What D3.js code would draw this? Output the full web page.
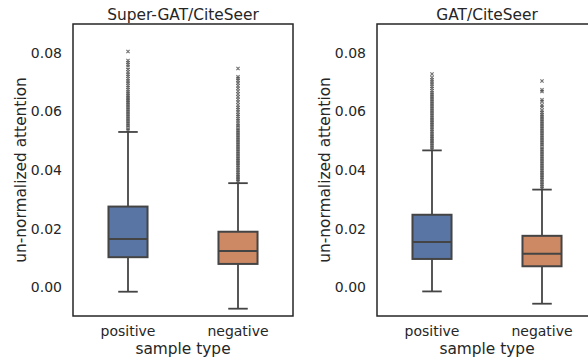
<!DOCTYPE html>
<html>
<head>
<meta charset="utf-8">
<script src="https://cdn.jsdelivr.net/npm/d3@7"></script>
<style>
  body { margin: 0; background: #fff; }
  text { font-family: "DejaVu Sans", sans-serif; fill: #262626; }
</style>
</head>
<body>
<div id="chart"></div>
<script>
// Data
const categories = ['positive', 'negative'];
const panelTitles = ['Super-GAT/CiteSeer', 'GAT/CiteSeer'];
const yTicks = [0.00, 0.02, 0.04, 0.06, 0.08];

// per category: [lower whisker, q1, median, q3, upper whisker]
const superGatBoxes = [
    [-0.0016, 0.0102, 0.0164, 0.0275, 0.0530],
    [-0.0074, 0.0079, 0.0123, 0.0189, 0.0355]
];
const gatBoxes = [
    [-0.0015, 0.0096, 0.0154, 0.0247, 0.0467],
    [-0.0057, 0.0071, 0.0114, 0.0175, 0.0333]
];

const superGatPosFliers = [0.0535, 0.0541, 0.0547, 0.0553, 0.0559, 0.0565, 0.0571, 0.0577, 0.0583, 0.0589,
    0.0595, 0.0601, 0.0607, 0.0613, 0.0619, 0.0625, 0.0631, 0.0637, 0.0643, 0.0649, 0.0655, 0.0661, 0.0667,
    0.0674, 0.0682, 0.0689, 0.0697, 0.0704, 0.0712, 0.0720, 0.0727, 0.0735, 0.0744, 0.0752, 0.0760, 0.0767,
    0.0774, 0.0805];
const superGatNegFliers = [0.0361, 0.0367, 0.0373, 0.0379, 0.0385, 0.0391, 0.0397, 0.0403, 0.0409, 0.0415,
    0.0421, 0.0427, 0.0433, 0.0439, 0.0445, 0.0451, 0.0457, 0.0463, 0.0469, 0.0475, 0.0481, 0.0487, 0.0493,
    0.0499, 0.0505, 0.0511, 0.0517, 0.0523, 0.0529, 0.0535, 0.0541, 0.0547, 0.0553, 0.0560, 0.0568, 0.0575,
    0.0583, 0.0590, 0.0598, 0.0606, 0.0614, 0.0622, 0.0632, 0.0641, 0.0650, 0.0660, 0.0669, 0.0679, 0.0688,
    0.0697, 0.0706, 0.0713, 0.0719, 0.0747];
const gatPosFliers = [0.0472, 0.0478, 0.0484, 0.0490, 0.0496, 0.0502, 0.0508, 0.0514, 0.0520, 0.0526,
    0.0532, 0.0538, 0.0544, 0.0550, 0.0556, 0.0562, 0.0568, 0.0574, 0.0580, 0.0586, 0.0592, 0.0598, 0.0604,
    0.0610, 0.0616, 0.0622, 0.0628, 0.0634, 0.0640, 0.0646, 0.0652, 0.0658, 0.0664, 0.0671, 0.0679, 0.0686,
    0.0694, 0.0701, 0.0708, 0.0716, 0.0728];
const gatNegFliers = [0.0338, 0.0344, 0.0350, 0.0356, 0.0362, 0.0368, 0.0374, 0.0380, 0.0386, 0.0392,
    0.0398, 0.0404, 0.0410, 0.0416, 0.0422, 0.0428, 0.0434, 0.0440, 0.0446, 0.0452, 0.0458, 0.0464, 0.0470,
    0.0476, 0.0482, 0.0488, 0.0494, 0.0500, 0.0506, 0.0512, 0.0518, 0.0524, 0.0530, 0.0536, 0.0542, 0.0548,
    0.0554, 0.0560, 0.0566, 0.0572, 0.0578, 0.0584, 0.0590, 0.0597, 0.0604, 0.0615, 0.0622, 0.0634, 0.0640,
    0.0668, 0.0674, 0.0704];

const boxColors = ['#5975a4', '#cc8963'];
const lineColor = '#444444';

const width = 588;
const height = 363;
const panelWidth = 220;
const plotTop = 24;
const plotBottom = 316;
const panelLefts = [73, 377];
const tickFont = '14px';
const labelFont = '15.4px';

const svg = d3.select('#chart').append('svg')
    .attr('width', width)
    .attr('height', height);

const yScale = d3.scaleLinear()
    .domain([-0.0099, 0.0899])
    .range([plotBottom, plotTop]);

const xScale = d3.scaleBand()
    .domain(categories)
    .range([0, panelWidth]);

const panels = [
    { title: panelTitles[0], boxes: superGatBoxes, fliers: [superGatPosFliers, superGatNegFliers] },
    { title: panelTitles[1], boxes: gatBoxes, fliers: [gatPosFliers, gatNegFliers] }
];

panels.forEach((panel, p) => {
    const g = svg.append('g')
        .attr('transform', `translate(${panelLefts[p]}, 0)`);

    // y tick labels, no tick marks (seaborn white style)
    const yAxis = g.append('g')
        .call(d3.axisLeft(yScale).tickValues(yTicks).tickSize(0).tickPadding(11).tickFormat(d3.format('.2f')));
    yAxis.select('.domain').remove();
    yAxis.selectAll('text')
        .style('font-family', '"DejaVu Sans", sans-serif')
        .style('font-size', tickFont)
        .attr('fill', '#262626');

    // x tick labels
    const xAxis = g.append('g')
        .attr('transform', `translate(0, ${plotBottom})`)
        .call(d3.axisBottom(xScale).tickSize(0).tickPadding(10.5));
    xAxis.select('.domain').remove();
    xAxis.selectAll('text')
        .style('font-family', '"DejaVu Sans", sans-serif')
        .style('font-size', tickFont)
        .attr('fill', '#262626');

    const boxW = xScale.bandwidth() * 0.355;
    const capW = boxW * 0.5;

    categories.forEach((cat, i) => {
        const cx = xScale(cat) + xScale.bandwidth() / 2;
        const [lo, q1, med, q3, hi] = panel.boxes[i];

        // whiskers
        g.append('line')
            .attr('x1', cx).attr('x2', cx)
            .attr('y1', yScale(q1)).attr('y2', yScale(lo))
            .attr('stroke', lineColor).attr('stroke-width', 1.8);
        g.append('line')
            .attr('x1', cx).attr('x2', cx)
            .attr('y1', yScale(q3)).attr('y2', yScale(hi))
            .attr('stroke', lineColor).attr('stroke-width', 1.8);

        // caps
        [lo, hi].forEach(v => {
            g.append('line')
                .attr('x1', cx - capW / 2).attr('x2', cx + capW / 2)
                .attr('y1', yScale(v)).attr('y2', yScale(v))
                .attr('stroke', lineColor).attr('stroke-width', 1.8);
        });

        // fliers, small x markers
        const fl = g.append('g');
        panel.fliers[i].forEach(v => {
            const y = yScale(v);
            fl.append('path')
                .attr('d', `M${cx - 1.6},${y - 1.6}L${cx + 1.6},${y + 1.6}M${cx - 1.6},${y + 1.6}L${cx + 1.6},${y - 1.6}`)
                .attr('stroke', '#3f3f3f')
                .attr('stroke-opacity', 0.75)
                .attr('stroke-width', 1.1)
                .attr('fill', 'none');
        });

        // box
        g.append('rect')
            .attr('x', cx - boxW / 2)
            .attr('y', yScale(q3))
            .attr('width', boxW)
            .attr('height', yScale(q1) - yScale(q3))
            .attr('fill', boxColors[i])
            .attr('stroke', lineColor)
            .attr('stroke-width', 2);

        // median
        g.append('line')
            .attr('x1', cx - boxW / 2).attr('x2', cx + boxW / 2)
            .attr('y1', yScale(med)).attr('y2', yScale(med))
            .attr('stroke', lineColor).attr('stroke-width', 2);
    });

    // frame
    g.append('rect')
        .attr('x', 0).attr('y', plotTop)
        .attr('width', panelWidth).attr('height', plotBottom - plotTop)
        .attr('fill', 'none')
        .attr('stroke', '#262626')
        .attr('stroke-width', 1.5);

    // title
    g.append('text')
        .attr('x', panelWidth / 2)
        .attr('y', 19.5)
        .attr('text-anchor', 'middle')
        .style('font-size', labelFont)
        .text(panel.title);

    // axis labels
    g.append('text')
        .attr('x', panelWidth / 2)
        .attr('y', 354)
        .attr('text-anchor', 'middle')
        .style('font-size', labelFont)
        .text('sample type');

    g.append('text')
        .attr('transform', `translate(-47.5, ${(plotTop + plotBottom) / 2}) rotate(-90)`)
        .attr('text-anchor', 'middle')
        .style('font-size', labelFont)
        .text('un-normalized attention');
});
</script>
</body>
</html>
